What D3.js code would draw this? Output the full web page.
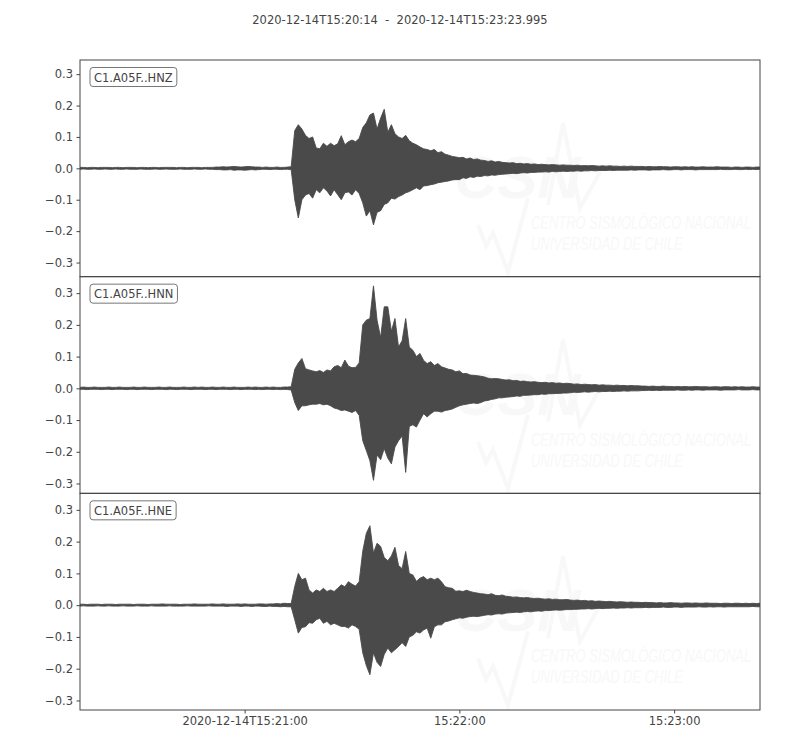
<!DOCTYPE html>
<html><head><meta charset="utf-8">
<script src="https://cdn.jsdelivr.net/npm/d3@7"></script>
<style>body{margin:0;background:#fff;} svg{display:block;font-family:"DejaVu Sans",sans-serif;}</style>
</head><body><svg id="chart" width="800" height="750"></svg>
<script>
// ---------------- data ----------------
const title = "2020-12-14T15:20:14  -  2020-12-14T15:23:23.995";
const startTime = "2020-12-14T15:20:14Z";
const endTime = "2020-12-14T15:23:23.995Z";
const channels = ["C1.A05F..HNZ", "C1.A05F..HNN", "C1.A05F..HNE"];
const sampleStepSeconds = 1;          // envelope samples every second from start
const ampUnit = 0.001;                // envelope values are in thousandths
const yTickValues = [-0.3, -0.2, -0.1, 0.0, 0.1, 0.2, 0.3];
const yDomains = [[-0.345, 0.345], [-0.331, 0.352], [-0.330, 0.352]];
const xTickTimes = ["2020-12-14T15:21:00Z", "2020-12-14T15:22:00Z", "2020-12-14T15:23:00Z"];
const xTickLabels = ["2020-12-14T15:21:00", "15:22:00", "15:23:00"];
const watermarkLines = ["CENTRO SISMOLÓGICO NACIONAL", "UNIVERSIDAD DE CHILE"];
const watermarkLogo = "CSN";

// HNZ envelope (max / min per second)
const hnzUpper = [
 3,3,2,3,3,2,3,3,3,2, 3,3,2,3,3,3,2,3,3,2, 3,3,2,3,3,3,3,2,3,3, 2,3,3,3,2,3,3,3,4,4,
 5,4,5,6,5,4,5,6,5,4, 4,3,4,3,3,4,3,3,4,5,
 120,139,125,105,95,100,65,62,80,70, 80,72,78,104,75,85,90,85,95,130,
 145,170,176,125,160,188,115,139,110,100, 95,105,88,80,75,68,62,60,56,60,
 50,53,45,42,38,36,34,
 35,30,33,28,30,26,25,22,24,20,22,19,18,
 17,18,15,16,14,15,13,14,12,13,12,11,12,11,10,11,10,10,
 9,10,8,9,8,9,8,7,8,7,8,7,7,6,7,6,7,6,6,
 6,5,6,5,5,6,5,5,4,5, 5,4,5,4,5,4,4,5,4,4, 4,5,4,4,4,3,4,4,3,4, 4,3,4,4
];
const hnzLower = [
 -3,-2,-3,-3,-2,-3,-3,-2,-3,-3, -2,-3,-3,-2,-3,-3,-3,-2,-3,-3, -3,-2,-3,-3,-2,-3,-3,-3,-2,-3,
 -3,-3,-2,-3,-3,-2,-3,-3,-4,-4, -5,-5,-4,-6,-5,-5,-6,-5,-4,-5, -4,-3,-3,-4,-3,-3,-4,-3,-3,-4,
 -100,-158,-100,-85,-80,-95,-68,-78,-62,-72, -88,-68,-84,-100,-78,-75,-85,-68,-80,-110,
 -152,-135,-180,-140,-135,-115,-110,-95,-98,-90, -85,-78,-74,-68,-62,-68,-56,-55,-52,-50,
 -46,-44,-42,-40,-37,-36,-36,
 -30,-32,-27,-29,-25,-26,-23,-24,-21,-22,-20,-19,-18,
 -17,-16,-17,-15,-14,-15,-13,-13,-12,-12,-11,-12,-10,-11,-10,-9,-10,-9,
 -9,-8,-9,-8,-8,-7,-8,-7,-7,-7,-6,-7,-6,-6,-6,-6,-5,-6,-5,
 -5,-5,-6,-5,-5,-5,-4,-5,-5,-4, -4,-5,-4,-4,-4,-5,-4,-4,-4,-4, -4,-4,-3,-4,-4,-4,-3,-4,-4,-3, -4,-3,-4,-3
];

// HNN envelope
const hnnUpper = [
 3,4,3,3,4,3,3,3,4,3, 3,4,3,3,3,4,3,3,4,3, 3,3,4,3,3,4,3,3,3,4, 3,3,4,3,4,3,3,4,3,3,
 4,3,3,4,3,3,3,4,3,4, 3,3,4,3,4,3,3,4,4,5,
 60,80,94,62,58,55,52,56,50,58, 55,68,72,65,89,70,65,66,80,200,
 215,220,323,215,160,257,257,180,220,130, 150,220,130,120,100,110,88,78,84,72,
 78,68,64,60,58,52,55,46,47,42, 41,40,38,36,32,30,31,30,
 28,26,27,24,25,22,23,21,
 20,21,19,18,19,17,18,16,17,15,16,15,
 13,14,12,13,12,11,12,10,11,10,10,9,10,9,9,8,9,8,8,
 7,7,6,7,6,6,7,6,6,5, 6,5,6,5,5,6,5,5,5,4, 5,5,4,5,5,4,5,4,5,4, 4,5,4,4
];
const hnnLower = [
 -3,-3,-4,-3,-3,-3,-4,-3,-3,-4, -3,-3,-3,-4,-3,-3,-4,-3,-3,-3, -4,-3,-3,-3,-4,-3,-3,-4,-3,-3,
 -3,-4,-3,-3,-3,-4,-3,-3,-4,-3, -3,-3,-4,-3,-3,-4,-3,-3,-3,-4, -3,-4,-3,-3,-4,-3,-4,-3,-4,-5,
 -45,-70,-55,-55,-52,-50,-50,-48,-52,-50, -55,-62,-65,-70,-68,-72,-76,-70,-85,-165,
 -196,-228,-290,-210,-225,-190,-220,-238,-185,-165, -150,-265,-120,-115,-122,-100,-80,-90,-80,-72,
 -72,-75,-70,-68,-65,-60,-55,-52,-50,-48, -46,-48,-45,-40,-38,-35,-33,-30,
 -30,-28,-27,-26,-24,-25,-22,-22,
 -21,-20,-20,-18,-19,-17,-17,-16,-16,-15,-15,-14,
 -12,-13,-12,-11,-12,-11,-10,-11,-10,-10,-9,-10,-9,-9,-8,-9,-8,-8,-8,
 -7,-7,-6,-7,-6,-7,-6,-6,-6,-6, -5,-6,-6,-5,-6,-5,-5,-6,-5,-5, -5,-5,-6,-5,-5,-5,-5,-4,-5,-5, -5,-4,-5,-5
];

// HNE envelope
const hneUpper = [
 3,3,2,3,3,3,2,3,3,3, 2,3,3,3,3,2,3,3,3,2, 3,3,3,4,3,3,3,3,2,3, 3,3,4,3,3,3,3,4,3,3,
 4,3,3,3,4,3,4,3,3,3, 4,4,3,4,4,5,4,6,5,5,
 59,100,80,85,48,38,48,43,53,43, 48,43,53,64,58,74,66,60,74,170,
 226,250,164,195,185,150,140,155,182,125, 115,169,100,95,75,85,90,80,85,80,
 85,74,58,55,53,44,45,43,47,43, 40,38,36,
 35,33,36,31,30,32,28,
 27,25,26,24,23,24,22,21,22,20,19,20,18,19,17,17,18,16,
 15,16,14,15,13,14,12,13,12,11,12,11,10,11,10,9,10,9,9,
 8,9,8,8,7,8,7,7,8,7, 7,6,7,7,6,7,6,6,7,6, 6,6,5,6,6,5,6,6,5,6, 5,6,5,6
];
const hneLower = [
 -3,-2,-3,-3,-3,-2,-3,-3,-2,-3, -3,-3,-2,-3,-3,-3,-2,-3,-3,-3, -2,-3,-3,-3,-3,-2,-3,-3,-3,-3,
 -2,-3,-3,-3,-3,-3,-2,-3,-3,-3, -3,-4,-3,-3,-3,-4,-3,-3,-4,-3, -3,-4,-4,-3,-4,-4,-5,-4,-5,-5,
 -46,-88,-70,-68,-55,-57,-46,-41,-57,-51, -62,-57,-62,-67,-67,-72,-62,-67,-76,-150,
 -190,-219,-150,-180,-193,-155,-135,-150,-140,-130, -118,-130,-100,-95,-84,-88,-78,-72,-104,-68,
 -62,-62,-52,-50,-46,-43,-40,-41,-38,-36, -35,-36,-34,
 -32,-30,-31,-28,-27,-28,-25,
 -24,-23,-22,-23,-21,-20,-21,-19,-18,-19,-17,-17,-16,-15,-16,-15,-14,-14,
 -13,-13,-12,-12,-11,-12,-11,-10,-11,-10,-10,-9,-10,-9,-9,-8,-9,-8,-8,
 -8,-7,-8,-7,-7,-7,-6,-7,-7,-6, -6,-7,-6,-6,-6,-6,-5,-6,-6,-5, -6,-5,-5,-6,-5,-5,-5,-5,-5,-5, -5,-4,-5,-5
];

// ---------------- drawing ----------------
const traces = [
  {name: channels[0], upper: hnzUpper, lower: hnzLower, domain: yDomains[0]},
  {name: channels[1], upper: hnnUpper, lower: hnnLower, domain: yDomains[1]},
  {name: channels[2], upper: hneUpper, lower: hneLower, domain: yDomains[2]}
];

const plotLeft = 80, plotRight = 760, plotTop = 60, plotBottom = 710;
const panelH = (plotBottom - plotTop) / traces.length;
const ink = "#444444";
const traceColor = "#4a4a4a";
const wmColor = "#f8f8f8";

const svg = d3.select("#chart");
const tStart = new Date(startTime), tEnd = new Date(endTime);
const x = d3.scaleUtc().domain([tStart, tEnd]).range([plotLeft, plotRight]);

svg.append("text").attr("x", 400).attr("y", 24).attr("text-anchor", "middle")
  .attr("font-size", 11.5).attr("fill", ink).style("white-space", "pre").text(title);

traces.forEach((tr, i) => {
  const y0 = plotTop + i * panelH;
  const y = d3.scaleLinear().domain(tr.domain).range([y0 + panelH, y0]);
  const g = svg.append("g");

  const clipId = "clip" + i;
  svg.append("clipPath").attr("id", clipId).append("rect")
    .attr("x", plotLeft).attr("y", y0).attr("width", plotRight - plotLeft).attr("height", panelH);

  // faint watermark (CSN logo)
  const wmClip = g.append("g").attr("clip-path", `url(#${clipId})`);
  const wm = wmClip.append("g").attr("transform", `translate(0,${i * panelH})`);
  wm.append("text").attr("x", 454).attr("y", 198).attr("font-size", 60)
    .attr("font-weight", "bold").attr("font-style", "italic")
    .attr("font-family", "'Liberation Sans', sans-serif")
    .attr("fill", wmColor).text(watermarkLogo);
  wm.append("path").attr("d", "M478,225 L486,246 L493,233 L508,272 L528,198 M548,205 L563,123 L580,208 L600,172")
    .attr("fill", "none").attr("stroke", wmColor).attr("stroke-width", 4);
  watermarkLines.forEach((s, k) => {
    wm.append("text").attr("transform", `translate(531,${229 + k * 21}) scale(0.72,1)`)
      .attr("font-size", 18).attr("font-style", "italic")
      .attr("font-family", "'Liberation Sans', sans-serif")
      .attr("fill", wmColor).text(s);
  });

  // waveform envelope (max/min per second)
  const pts = tr.upper.map((u, k) => ({
    time: new Date(tStart.getTime() + k * sampleStepSeconds * 1000),
    hi: u * ampUnit, lo: tr.lower[k] * ampUnit
  }));
  const area = d3.area().curve(d3.curveLinear)
    .x(d => x(d.time)).y0(d => y(d.lo)).y1(d => y(d.hi));
  g.append("path").attr("clip-path", `url(#${clipId})`).datum(pts)
    .attr("d", area).attr("fill", traceColor).attr("stroke", traceColor)
    .attr("stroke-width", 0.9).attr("stroke-linejoin", "miter");

  // frame
  g.append("rect").attr("x", plotLeft).attr("y", y0).attr("width", plotRight - plotLeft).attr("height", panelH)
    .attr("fill", "none").attr("stroke", ink).attr("stroke-width", 1);

  // y axis
  const ya = g.append("g").attr("transform", `translate(${plotLeft},0)`)
    .call(d3.axisLeft(y).tickValues(yTickValues).tickSize(3.5).tickPadding(3.5).tickFormat(d3.format(".1f")));
  ya.select(".domain").remove();
  ya.selectAll("line").attr("stroke", ink);
  ya.selectAll("text").attr("fill", ink).attr("font-size", 11.5).attr("font-family", "DejaVu Sans");

  // channel label box
  const lab = g.append("g");
  const lt = lab.append("text").attr("x", 94).attr("y", y0 + 21.5).attr("font-size", 11.5)
    .attr("fill", ink).text(tr.name);
  const bb = lt.node().getBBox();
  lab.insert("rect", "text").attr("x", bb.x - 4).attr("y", y0 + 7.5).attr("width", bb.width + 8).attr("height", 19)
    .attr("rx", 3).attr("fill", "#fff").attr("stroke", "#777").attr("stroke-width", 1);

  if (i === traces.length - 1) {
    const xa = g.append("g").attr("transform", `translate(0,${plotBottom})`)
      .call(d3.axisBottom(x).tickValues(xTickTimes.map(s => new Date(s)))
        .tickFormat((d, k) => xTickLabels[k]).tickSize(3.5).tickPadding(3.5));
    xa.select(".domain").remove();
    xa.selectAll("line").attr("stroke", ink);
    xa.selectAll("text").attr("fill", ink).attr("font-size", 11.5).attr("font-family", "DejaVu Sans");
  }
});
</script></body></html>
